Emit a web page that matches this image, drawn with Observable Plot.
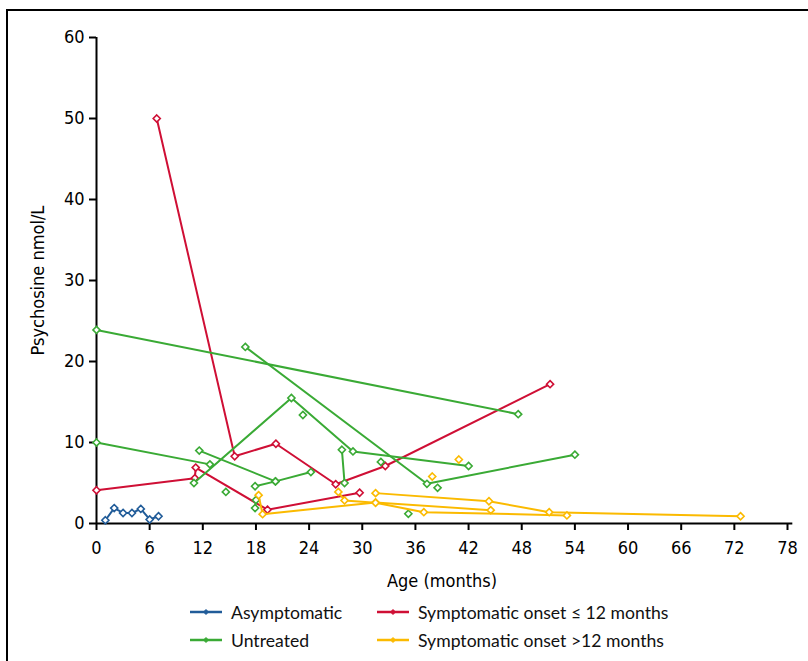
<!DOCTYPE html>
<html><head><meta charset="utf-8">
<script src="https://cdn.jsdelivr.net/npm/d3@7"></script>
<script src="https://cdn.jsdelivr.net/npm/@observablehq/plot@0.6"></script>
<style>
body{margin:0;background:#fff;}
#frame{position:absolute;left:6px;top:9px;width:820px;height:670px;border-top:2px solid #000;border-left:2px solid #000;}
#chart{position:absolute;left:0;top:0;}
#legend{position:absolute;left:0;top:0;width:808px;height:661px;pointer-events:none;font-family:Lato,"Open Sans",sans-serif;font-size:17.6px;color:#111;}
.li{position:absolute;display:flex;align-items:center;white-space:nowrap;height:24px;}
.li svg{margin-right:9px;}
</style></head><body>
<div id="frame"></div>
<div id="chart"></div>
<div id="legend"></div>
<script>
// ---- data ----
const groups = ["Asymptomatic", "Symptomatic onset \u2264 12 months", "Untreated", "Symptomatic onset >12 months"];
const groupColors = ["#215c99", "#cf0f35", "#3aaa35", "#fbba00"];
const xTicks = [0, 6, 12, 18, 24, 30, 36, 42, 48, 54, 60, 66, 72, 78];
const yTicks = [0, 10, 20, 30, 40, 50, 60];

// each patient: list of [age in months, psychosine nmol/L]
const asymptomatic = [
  [[1, 0.4], [2, 1.9], [3, 1.3], [4, 1.3], [5, 1.8], [6, 0.5], [7, 0.9]]
];
const symptomaticEarly = [
  [[6.8, 50], [15.6, 8.3], [20.25, 9.85], [27.0, 4.85], [32.6, 7.1], [51.2, 17.2]],
  [[0, 4.1], [11.1, 5.6], [11.2, 6.9], [19.3, 1.7], [29.7, 3.8]]
];
const untreated = [
  [[0, 23.9], [47.6, 13.5]],
  [[16.8, 21.8], [37.3, 4.9], [54.0, 8.5]],
  [[11.0, 5.0], [22.0, 15.5], [28.95, 8.9], [42.0, 7.1]],
  [[0, 10.0], [12.8, 7.3]],
  [[11.6, 9.0], [20.2, 5.2], [24.2, 6.35]],
  [[17.9, 4.6], [20.2, 5.2]],
  [[27.7, 9.1], [28.0, 5.0]],
  [[18.0, 2.9], [17.9, 1.9]],
  [[14.6, 3.9]],
  [[23.3, 13.4]],
  [[32.1, 7.6]],
  [[38.5, 4.4]],
  [[35.2, 1.2]]
];
const symptomaticLate = [
  [[18.3, 3.5], [18.75, 1.15], [31.5, 2.6], [44.5, 1.65]],
  [[27.3, 3.9], [28.0, 2.85], [31.5, 2.55], [36.95, 1.4], [53.1, 1.0]],
  [[31.5, 3.75], [44.3, 2.75], [51.1, 1.4], [72.7, 0.9]],
  [[37.9, 5.8]],
  [[40.9, 7.9]]
];

// ---- build table ----
const seriesByGroup = [asymptomatic, symptomaticEarly, untreated, symptomaticLate];
const rows = [];
seriesByGroup.forEach((patients, gi) => {
  patients.forEach((pts, pi) => {
    pts.forEach(([age, value]) => rows.push({group: groups[gi], id: gi + "-" + pi, age, value}));
  });
});

const axisFont = '"Liberation Sans Narrow","DejaVu Sans Condensed",sans-serif';
const marks = [];
groups.forEach(g => {
  const d = rows.filter(r => r.group === g);
  marks.push(Plot.line(d, {x: "age", y: "value", z: "id", stroke: "group", strokeWidth: 2}));
  marks.push(Plot.dot(d, {x: "age", y: "value", symbol: "diamond2", r: 3.2, stroke: "group", fill: "white", strokeWidth: 1.6}));
});

const chart = Plot.plot({
  width: 808,
  height: 596,
  marginTop: 37,
  marginLeft: 96,
  marginRight: 21,
  marginBottom: 73,
  style: {fontFamily: axisFont, fontSize: "18px", color: "#000", background: "transparent"},
  x: {domain: [0, 78]},
  y: {domain: [0, 60]},
  color: {domain: groups, range: groupColors},
  marks: [
    Plot.ruleX([0], {stroke: "#000", strokeWidth: 2}),
    Plot.ruleY([0], {x1: 0, x2: 78.6, stroke: "#000", strokeWidth: 2}),
    Plot.axisX({ticks: xTicks, tickSize: 7, tickPadding: 11, strokeWidth: 2, fontSize: 18,
      label: "Age (months)", labelAnchor: "center", labelArrow: "none", labelOffset: 63}),
    Plot.axisY({ticks: yTicks, tickSize: 7, tickPadding: 5, strokeWidth: 2, fontSize: 18,
      label: "Psychosine nmol/L", labelAnchor: "center", labelArrow: "none", labelOffset: 65}),
    ...marks
  ]
});
document.getElementById("chart").appendChild(chart);

// ---- legend ----
const legendPos = [
  {x: 190, y: 612}, {x: 377, y: 612}, {x: 190, y: 640}, {x: 377, y: 640}
];
const legend = document.getElementById("legend");
groups.forEach((g, i) => {
  const div = document.createElement("div");
  div.className = "li";
  div.style.left = legendPos[i].x + "px";
  div.style.top = (legendPos[i].y - 12) + "px";
  const c = groupColors[i];
  div.innerHTML = `<svg width="32" height="10" viewBox="0 0 32 10"><line x1="0" y1="5" x2="32" y2="5" stroke="${c}" stroke-width="2.5"/><path d="M16,2.5L18.5,5L16,7.5L13.5,5Z" fill="${c}" stroke="${c}" stroke-width="1"/></svg><span>${g}</span>`;
  legend.appendChild(div);
});
</script>
</body></html>
